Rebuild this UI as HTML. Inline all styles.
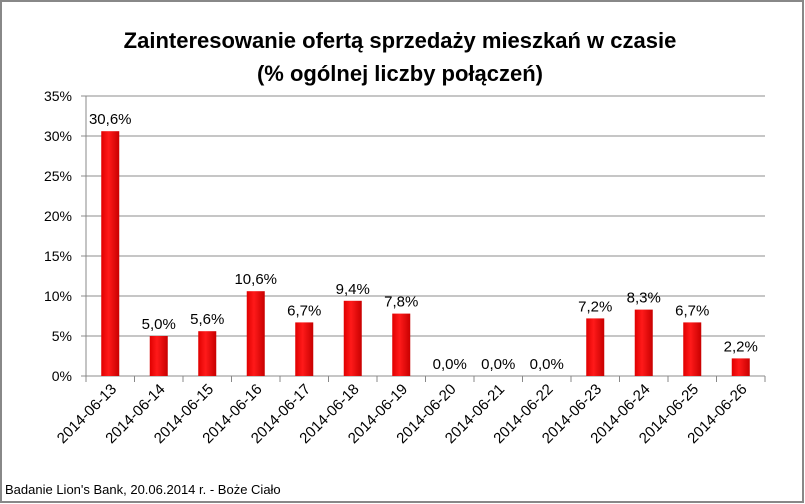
<!DOCTYPE html>
<html><head><meta charset="utf-8"><style>
body{margin:0;background:#fff}
svg{display:block;font-family:"Liberation Sans",sans-serif}
</style></head><body>
<svg width="805" height="504" id="c">
<rect x="1" y="1" width="802" height="501" fill="#fff" stroke="#888" stroke-width="2"/>
<text x="400" y="48" text-anchor="middle" font-size="22" font-weight="bold" fill="#000">Zainteresowanie ofertą sprzedaży mieszkań w czasie</text>
<text x="400" y="81" text-anchor="middle" font-size="22" font-weight="bold" fill="#000">(%  ogólnej liczby połączeń)</text>
<text x="5" y="494" font-size="13" fill="#000">Badanie Lion's Bank, 20.06.2014 r. - Boże Ciało</text>
<defs><linearGradient id="g" x1="0" x2="1"><stop offset="0" stop-color="#e00000"/><stop offset="0.4" stop-color="#ff1a1a"/><stop offset="1" stop-color="#c80000"/></linearGradient></defs>
<g id="grid"></g><g id="bars"></g><g id="labels"></g>
</svg>
<script>
const categories=["2014-06-13","2014-06-14","2014-06-15","2014-06-16","2014-06-17","2014-06-18","2014-06-19","2014-06-20","2014-06-21","2014-06-22","2014-06-23","2014-06-24","2014-06-25","2014-06-26"];
const values=[30.6,5.0,5.6,10.6,6.7,9.4,7.8,0,0,0,7.2,8.3,6.7,2.2];
const valueLabels=["30,6%","5,0%","5,6%","10,6%","6,7%","9,4%","7,8%","0,0%","0,0%","0,0%","7,2%","8,3%","6,7%","2,2%"];
const yTicks=[0,5,10,15,20,25,30,35];
const NS="http://www.w3.org/2000/svg";
const L=86,R=765,T=96,B=376,maxV=35;
const y=v=>B-(v/maxV)*(B-T);
const bw=(R-L)/categories.length;
const x=i=>L+bw*(i+0.5);
function mk(tag,attrs,parent){const e=document.createElementNS(NS,tag);for(const k in attrs)e.setAttribute(k,attrs[k]);parent.appendChild(e);return e;}
const grid=document.getElementById('grid'),bars=document.getElementById('bars'),labels=document.getElementById('labels');
yTicks.forEach(t=>{
  const ln=mk('line',{x1:L-5,x2:R,y1:y(t),y2:y(t),stroke:'#8c8c8c','stroke-width':1},grid);
  
  
  const tx=mk('text',{x:L-14,y:y(t)+5,'text-anchor':'end','font-size':14,fill:'#000'},grid);
  tx.textContent=t+'%';
  
  
});
const ax=mk('line',{x1:L,x2:L,y1:T,y2:B,stroke:'#888'},grid);


for(let i=0;i<=categories.length;i++){
  const tk=mk('line',{x1:L+bw*i,x2:L+bw*i,y1:B,y2:B+6,stroke:'#888'},grid);
  
  
}
categories.forEach((c,i)=>{
  const v=values[i],cx=x(i),w=18;
  if(v>0){
    const r=mk('rect',{x:cx-w/2,y:y(v),width:w,height:B-y(v),fill:'url(#g)'},bars);
    
    
  }
  const vl=mk('text',{x:cx,y:y(v)-7,'text-anchor':'middle','font-size':15,fill:'#000'},labels);
  vl.textContent=valueLabels[i];
  
  
  const cl=mk('text',{x:0,y:0,'text-anchor':'end','font-size':15,fill:'#000',transform:`translate(${cx+7},${B+14}) rotate(-45)`},labels);
  cl.textContent=c;
  
  
});
</script>
</body></html>
